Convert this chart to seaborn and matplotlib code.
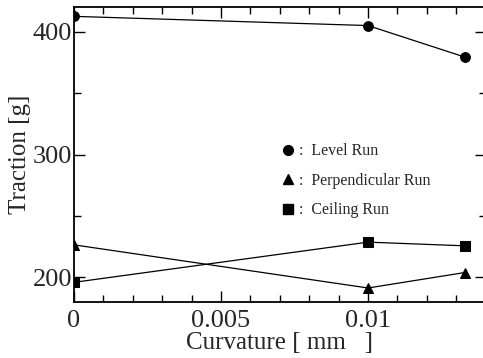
import pandas as pd
import numpy as np
import matplotlib
matplotlib.use('Agg')
import matplotlib.pyplot as plt
import seaborn as sns
from matplotlib.ticker import MultipleLocator, FixedLocator

# ─────────────────────────────────────────────
# DATA
# ─────────────────────────────────────────────
curvature = [0.0, 0.01, 0.0133]
level_run = [412.4, 404.9, 379.2]
perpendicular_run = [226.5, 191.4, 204.0]
ceiling_run = [196.0, 228.7, 225.7]
series_names = ['Level Run', 'Perpendicular Run', 'Ceiling Run']
x_ticks = [0, 0.005, 0.01]
x_tick_labels = ['0', '0.005', '0.01']
y_ticks = [200, 300, 400]

df = pd.DataFrame({
    'Curvature': curvature * 3,
    'Traction': level_run + perpendicular_run + ceiling_run,
    'Run': [n for n in series_names for _ in curvature],
})

sns.set_theme(style='ticks')
plt.rcParams['font.family'] = ['Liberation Serif', 'DejaVu Serif']

fig = plt.figure(figsize=(4.83, 3.58), dpi=100)
# axes runs a little past the right edge of the image, like the original
ax = fig.add_axes([74 / 483, 1 - 302 / 358, 411.6 / 483, 295 / 358])

markers = {'Level Run': 'o', 'Perpendicular Run': '^', 'Ceiling Run': 's'}
sns.lineplot(data=df, x='Curvature', y='Traction', hue='Run', style='Run',
             markers=markers, dashes=False, palette=['black'] * 3,
             linewidth=0.9, markersize=7, markeredgecolor='black',
             ax=ax, legend=False)

ax.set_xlim(0, 0.014)
ax.set_ylim(180, 420)
ax.xaxis.set_major_locator(FixedLocator(x_ticks))
ax.set_xticklabels(x_tick_labels)
ax.xaxis.set_minor_locator(MultipleLocator(0.001))
ax.yaxis.set_major_locator(FixedLocator(y_ticks))
ax.yaxis.set_minor_locator(MultipleLocator(50))
ax.tick_params(which='both', direction='in', top=True, right=True,
               width=1, color='black', labelsize=19)
ax.tick_params(axis='x', which='major', length=8, pad=6)
ax.tick_params(axis='y', which='major', length=8, pad=1.5)
ax.tick_params(which='minor', length=5)
for s in ax.spines.values():
    s.set_linewidth(1.3)
    s.set_color('black')

ax.set_xlabel('Curvature [ mm   ]', fontsize=18, labelpad=0)
ax.set_ylabel('Traction [g]', fontsize=18, labelpad=1)

# legend drawn as ":"-style labels
handles = [plt.Line2D([], [], ls='none', marker=markers[n], color='black',
                      markersize=7) for n in series_names]
labels = [':  ' + n for n in series_names]
ax.legend(handles, labels, loc='upper left', bbox_to_anchor=(0.47, 0.587),
          frameon=False, handlelength=0.8, handletextpad=0.3,
          labelspacing=0.85, fontsize=11.5)

plt.savefig('out.png', dpi=100)
plt.close()
